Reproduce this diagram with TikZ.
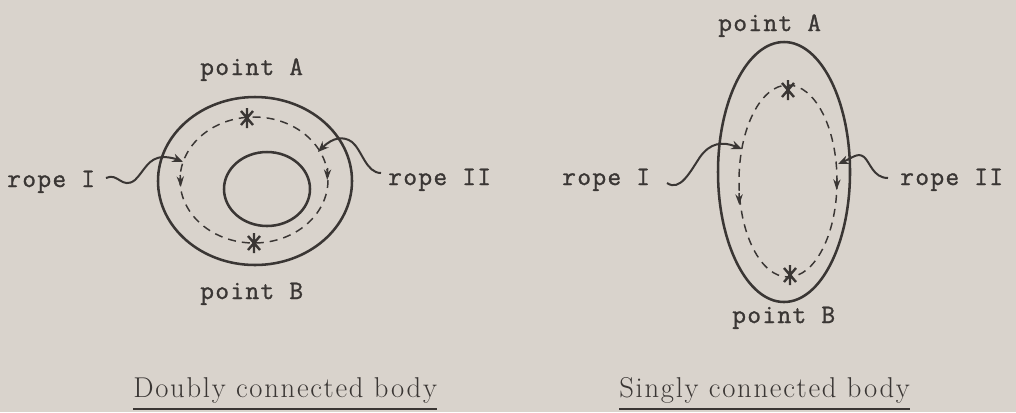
\documentclass[tikz,border=0pt]{standalone}
\usepackage{fontspec}
\newfontfamily\labfont{Latin Modern Mono}[LetterSpace=5, FakeBold=1.2]
\newfontfamily\capfont{Latin Modern Roman}[LetterSpace=6]
\usetikzlibrary{arrows.meta,calc}
\definecolor{bg}{HTML}{D9D3CC}
\definecolor{ink}{HTML}{3A3634}
\tikzset{
  body/.style={draw=ink, line width=1.9pt},
  ringpath/.style={draw=ink, line width=1.1pt, dash pattern=on 6pt off 4.5pt},
  rope/.style={draw=ink, line width=1.5pt, -{Stealth[length=8pt,width=6.5pt]}},
  flow/.style={draw=ink, line width=1.1pt, -{Stealth[length=8pt,width=5.5pt]}},
  lbl/.style={text=ink, font=\labfont\fontsize{20}{24}\selectfont, inner sep=0pt, anchor=base west},
  captxt/.style={text=ink, font=\capfont\fontsize{21.5}{25}\selectfont, inner sep=0pt, anchor=base west},
  uline/.style={draw=ink, line width=1.2pt},
  astmark/.pic={\draw[ink, line width=1.8pt] (0,-10)--(0,10) (-6,-7)--(6,7) (-6,7)--(6,-7);}
}
\begin{document}
\begin{tikzpicture}[x=0.75pt, y=-0.75pt, line join=round]
\fill[bg] (0,0) rectangle (1016,412);
\useasboundingbox (0,0) rectangle (1016,412);

% ---------- left: doubly connected body ----------
\draw[body] (255,181) ellipse [x radius=97, y radius=84];
\draw[body] (267,189) ellipse [x radius=43, y radius=37];
\draw[ringpath] (254,180) ellipse [x radius=74, y radius=63];
\pic at (247,118) {astmark};
\pic at (254,243) {astmark};
\draw[flow] (180.2,175) -- (180.8,187);
\draw[flow] (327.6,168) -- (327.2,180);

\node[lbl] (lA) at (200,75) {point A};
\node[lbl] (lB) at (200,299) {point B};
\node[lbl] (lR1) at (7,187) {rope I};
\node[lbl] (lR2) at (388,185) {rope II};

\coordinate (l1s) at (106,178);
\coordinate (l1e) at (183,162);
\draw[rope] (l1s) .. controls (118,172) and (122,190) .. (135,180)
  .. controls (145,170) and (148,158) .. (163,157)
  .. controls (170,157) and (176,159) .. (l1e);
\coordinate (l2s) at (381,173);
\coordinate (l2e) at (318,152);
\draw[rope] (l2s) .. controls (366,173) and (362,150) .. (352,142)
  .. controls (344,136) and (333,137) .. (l2e);

\node[captxt] (capL) at (133,397) {Doubly connected body};
\draw[uline] ($(capL.base west)+(0,12)$) -- ($(capL.base east)+(0,12)$);

% ---------- right: singly connected body ----------
\draw[body] (784,172) ellipse [x radius=66, y radius=130];
\draw[ringpath] (788,181) ellipse [x radius=49, y radius=96];
\pic at (788,90) {astmark};
\pic at (790,275) {astmark};
\draw[flow] (739,193) -- (739.3,205);
\draw[flow] (837,178) -- (836.6,190);

\node[lbl] (rA) at (718,31) {point A};
\node[lbl] (rB) at (732,323) {point B};
\node[lbl] (rR1) at (562,185) {rope I};
\node[lbl] (rR2) at (900,185) {rope II};

\coordinate (r1s) at (667,183);
\coordinate (r1e) at (742,149);
\draw[rope] (r1s) .. controls (680,192) and (690,172) .. (700,157)
  .. controls (710,143) and (722,141) .. (r1e);
\coordinate (r2s) at (888,178);
\coordinate (r2e) at (838,164);
\draw[rope] (r2s) .. controls (873,178) and (870,162) .. (864,157)
  .. controls (858,152) and (852,158) .. (r2e);

\node[captxt] (capR) at (619,397) {Singly connected body};
\draw[uline] ($(capR.base west)+(0,12)$) -- ($(capR.base east)+(0,12)$);
\end{tikzpicture}
\end{document}
